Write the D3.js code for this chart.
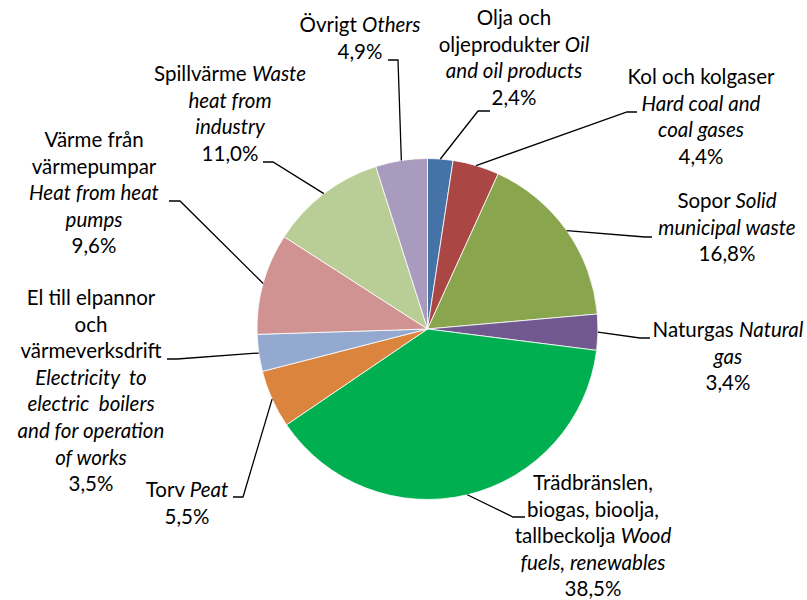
<!DOCTYPE html>
<html>
<head>
<meta charset="utf-8">
<script src="https://cdn.jsdelivr.net/npm/d3@7"></script>
<style>
  html, body { margin: 0; padding: 0; background: #fff; }
  svg { display: block; }
  text { font-family: Lato, "Open Sans", sans-serif; font-size: 20.5px; fill: #000; }
</style>
</head>
<body>
<svg id="chart" width="807" height="600"></svg>
<script>
// Energy input for district heating, share of total (%)
const categories = [
  "Olja och oljeprodukter",
  "Kol och kolgaser",
  "Sopor",
  "Naturgas",
  "Trädbränslen, biogas, bioolja, tallbeckolja",
  "Torv",
  "El till elpannor och värmeverksdrift",
  "Värme från värmepumpar",
  "Spillvärme",
  "Övrigt"
];
const categoriesEn = [
  "Oil and oil products",
  "Hard coal and coal gases",
  "Solid municipal waste",
  "Natural gas",
  "Wood fuels, renewables",
  "Peat",
  "Electricity to electric boilers and for operation of works",
  "Heat from heat pumps",
  "Waste heat from industry",
  "Others"
];
const values = [2.4, 4.4, 16.8, 3.4, 38.5, 5.5, 3.5, 9.6, 11.0, 4.9];
const colors = ["#4572A7", "#AA4643", "#89A54E", "#71588F", "#00B050",
                "#DB843D", "#93A9CF", "#D19392", "#B9CD96", "#A99BBD"];

// Label text broken into lines; each line is a list of [text, italic] runs
const labelLines = [
  [[["Olja och", 0]], [["oljeprodukter ", 0], ["Oil", 1]], [["and oil products", 1]]],
  [[["Kol och kolgaser", 0]], [["Hard coal and", 1]], [["coal gases", 1]]],
  [[["Sopor ", 0], ["Solid", 1]], [["municipal waste", 1]]],
  [[["Naturgas ", 0], ["Natural", 1]], [["gas", 1]]],
  [[["Trädbränslen,", 0]], [["biogas, bioolja,", 0]], [["tallbeckolja ", 0], ["Wood", 1]], [["fuels, renewables", 1]]],
  [[["Torv ", 0], ["Peat", 1]]],
  [[["El till elpannor", 0]], [["och", 0]], [["värmeverksdrift", 0]], [["Electricity  to", 1]], [["electric  boilers", 1]], [["and for operation", 1]], [["of works", 1]]],
  [[["Värme från", 0]], [["värmepumpar", 0]], [["Heat from heat", 1]], [["pumps", 1]]],
  [[["Spillvärme ", 0], ["Waste", 1]], [["heat from", 1]], [["industry", 1]]],
  [[["Övrigt ", 0], ["Others", 1]]]
];

// Label placement: centre x, first baseline y, leader elbow and end point
const layout = [
  { x: 514, y: 25,  elbow: [478, 111], end: [490, 111] },
  { x: 701, y: 84,  elbow: [627, 112], end: [637, 112] },
  { x: 727, y: 208, elbow: [645, 237], end: [652, 237] },
  { x: 728, y: 337, elbow: [640, 338], end: [650, 338] },
  { x: 593, y: 490, elbow: [513, 517], end: [525, 517] },
  { x: 187, y: 497, elbow: [243, 497], end: [233, 497] },
  { x: 91,  y: 305, elbow: [177, 359], end: [167, 359] },
  { x: 94,  y: 147, elbow: [180, 201], end: [169, 201] },
  { x: 230, y: 81,  elbow: [273, 162], end: [263, 162] },
  { x: 360, y: 32,  elbow: [398, 60],  end: [388, 60] }
];

const lineHeight = 26.6;
const cx = 427.5, cy = 329, radius = 170.5;
const fmt = v => d3.format(".1f")(v).replace(".", ",") + "%";

const svg = d3.select("#chart");
const g = svg.append("g").attr("transform", `translate(${cx},${cy})`);

const pie = d3.pie().sort(null).value(d => d.value);
const arc = d3.arc().innerRadius(0).outerRadius(radius);

const data = values.map((v, i) => ({
  name: categories[i], nameEn: categoriesEn[i], value: v, color: colors[i], i
}));
const arcs = pie(data);

g.selectAll("path.slice")
  .data(arcs)
  .join("path")
  .attr("class", "slice")
  .attr("d", arc)
  .attr("fill", d => d.data.color)
  .attr("stroke", "#fff")
  .attr("stroke-width", 0.8);

// Leader lines from the slice edge at its mid-angle to the label
const leaders = svg.append("g");
arcs.forEach(a => {
  const mid = (a.startAngle + a.endAngle) / 2;
  const p0 = [cx + radius * Math.sin(mid), cy - radius * Math.cos(mid)];
  const L = layout[a.data.i];
  leaders.append("path")
    .attr("d", d3.line()([p0, L.elbow, L.end]))
    .attr("fill", "none")
    .attr("stroke", "#000")
    .attr("stroke-width", 1.3);
});

// Labels
const labels = svg.append("g");
arcs.forEach(a => {
  const i = a.data.i;
  const L = layout[i];
  const lines = labelLines[i].concat([[[fmt(a.data.value), 0]]]);
  const t = labels.append("text")
    .attr("text-anchor", "middle")
    .attr("x", L.x)
    .attr("y", L.y);
  lines.forEach((runs, k) => {
    runs.forEach((r, j) => {
      const ts = t.append("tspan")
        .text(r[0])
        .attr("font-style", r[1] ? "italic" : "normal")
        .attr("xml:space", "preserve")
        .style("white-space", "pre");
      if (j === 0) ts.attr("x", L.x).attr("y", L.y + k * lineHeight);
    });
  });
});
</script>
</body>
</html>
